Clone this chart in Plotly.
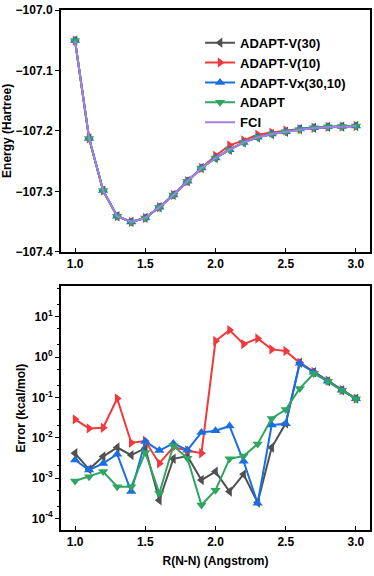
import plotly.graph_objects as go
from plotly.subplots import make_subplots

# bond length R(N-N) in Angstrom
r = [1.0, 1.1, 1.2, 1.3, 1.4, 1.5, 1.6, 1.7, 1.8, 1.9, 2.0,
     2.1, 2.2, 2.3, 2.4, 2.5, 2.6, 2.7, 2.8, 2.9, 3.0]

# energies (Hartree)
e_fci = [-107.0506, -107.2124, -107.2988, -107.3411, -107.3505, -107.3439, -107.3263,
         -107.3059, -107.2834, -107.2613, -107.2448, -107.2311, -107.2190, -107.2107,
         -107.2052, -107.2014, -107.1981, -107.1953, -107.1937, -107.1931, -107.1920]
e_v30 = [-107.0506, -107.2124, -107.2988, -107.3411, -107.3505, -107.3439, -107.3263,
         -107.3059, -107.2834, -107.2613, -107.2448, -107.2311, -107.2190, -107.2107,
         -107.2052, -107.2014, -107.1970, -107.1947, -107.1933, -107.1929, -107.1919]
e_v10 = [-107.0506, -107.2124, -107.2988, -107.3410, -107.3505, -107.3439, -107.3263,
         -107.3059, -107.2834, -107.2613, -107.2410, -107.2239, -107.2157, -107.2063,
         -107.2028, -107.1993, -107.1970, -107.1947, -107.1933, -107.1929, -107.1919]
e_vx = [-107.0506, -107.2124, -107.2988, -107.3411, -107.3505, -107.3439, -107.3263,
        -107.3059, -107.2834, -107.2613, -107.2448, -107.2311, -107.2190, -107.2107,
        -107.2052, -107.2014, -107.1970, -107.1947, -107.1933, -107.1929, -107.1919]
e_adapt = [-107.0506, -107.2124, -107.2988, -107.3411, -107.3505, -107.3439, -107.3263,
           -107.3059, -107.2834, -107.2613, -107.2448, -107.2311, -107.2190, -107.2107,
           -107.2052, -107.2013, -107.1978, -107.1947, -107.1933, -107.1929, -107.1919]

# errors vs FCI (kcal/mol)
err_v30 = [0.0041, 0.00164, 0.0034, 0.0057, 0.0037, 0.0055, 0.00028, 0.003, 0.0035,
           0.00089, 0.00144, 0.00046, 0.00123, 0.000245, 0.0057, 0.0227, 0.72,
           0.42, 0.25, 0.15, 0.093]
err_v10 = [0.0285, 0.017, 0.0177, 0.094, 0.0075, 0.0083, 0.0023, 0.0058, 0.0048,
           0.0041, 2.5, 4.67, 2.1, 2.9, 1.55, 1.41, 0.72, 0.43, 0.26, 0.152, 0.093]
err_vx = [0.0028, 0.00158, 0.0023, 0.0039, 0.00046, 0.008, 0.0048, 0.0072, 0.0049,
          0.0135, 0.0149, 0.0195, 0.0026, 0.000236, 0.0206, 0.0222, 0.70,
          0.42, 0.25, 0.15, 0.093]
err_adapt = [0.00084, 0.00108, 0.00144, 0.00061, 0.00061, 0.0043, 0.00042, 0.0063,
             0.0031, 0.000214, 0.0005, 0.003, 0.0035, 0.007, 0.030, 0.050, 0.167,
             0.39, 0.25, 0.15, 0.093]

# log axis tick labels
err_ticks = [1e1, 1e0, 1e-1, 1e-2, 1e-3, 1e-4]
err_ticktext = ['10<sup>1</sup>', '10<sup>0</sup>', '10<sup>-1</sup>',
                '10<sup>-2</sup>', '10<sup>-3</sup>', '10<sup>-4</sup>']

series = [
    ('ADAPT-V(30)', e_v30, err_v30, '#505050', 'triangle-left'),
    ('ADAPT-V(10)', e_v10, err_v10, '#f0393c', 'triangle-right'),
    ('ADAPT-Vx(30,10)', e_vx, err_vx, '#1a6ee0', 'triangle-up'),
    ('ADAPT', e_adapt, err_adapt, '#2ea562', 'triangle-down'),
]

fig = make_subplots(rows=2, cols=1, vertical_spacing=0.066)

for name, en, err, col, sym in series:
    fig.add_trace(go.Scatter(x=r, y=en, name=name, mode='lines+markers',
                             line=dict(color=col, width=2),
                             marker=dict(symbol=sym, size=9, color=col)),
                  row=1, col=1)
    fig.add_trace(go.Scatter(x=r, y=err, name=name, mode='lines+markers', showlegend=False,
                             line=dict(color=col, width=2),
                             marker=dict(symbol=sym, size=9, color=col)),
                  row=2, col=1)

fig.add_trace(go.Scatter(x=r, y=e_fci, name='FCI', mode='lines',
                         line=dict(color='#a77ee6', width=2)),
              row=1, col=1)

axis_style = dict(showline=True, linecolor='black', linewidth=2, mirror=True,
                  showgrid=False, zeroline=False, tickcolor='black', automargin=False,
                  tickfont=dict(size=12, color='black'))

fig.update_xaxes(range=[0.9, 3.1], dtick=0.5, tickformat='.1f', ticks='inside',
                 ticklen=4, **axis_style)
fig.update_xaxes(title=dict(text='R(N-N) (Angstrom)', font=dict(size=12, color='black'),
                            standoff=8), row=2, col=1)
fig.update_yaxes(range=[-107.4, -107.0], dtick=0.1, tickformat='.1f', ticks='outside',
                 ticklen=4, title=dict(text='Energy (Hartree)', font=dict(size=12, color='black'),
                                       standoff=4),
                 row=1, col=1, **axis_style)
fig.update_yaxes(type='log', range=[-4.29, 1.76], tickvals=err_ticks, ticktext=err_ticktext,
                 ticks='outside', ticklen=4,
                 minor=dict(ticks='outside', ticklen=2, tickcolor='black'),
                 title=dict(text='Error (kcal/mol)', font=dict(size=12, color='black'),
                            standoff=4),
                 row=2, col=1, **axis_style)

fig.update_layout(
    width=374, height=576,
    margin=dict(l=61, r=4, t=10, b=46),
    plot_bgcolor='white', paper_bgcolor='white',
    font=dict(family='Liberation Sans, Arial, sans-serif', size=12, color='black',
              weight='bold'),
    legend=dict(x=0.45, y=0.966, xanchor='left', yanchor='top',
                bgcolor='rgba(0,0,0,0)', font=dict(size=13),
                itemwidth=30, tracegroupgap=0),
)
fig.update_layout(yaxis=dict(domain=[0.535, 1.0]), yaxis2=dict(domain=[0.0, 0.469]))

# drop the default page margin so the figure sits at the window's corner
fig.write_html('out.html', config={'displayModeBar': False},
               post_script="document.body.style.margin='0';")
